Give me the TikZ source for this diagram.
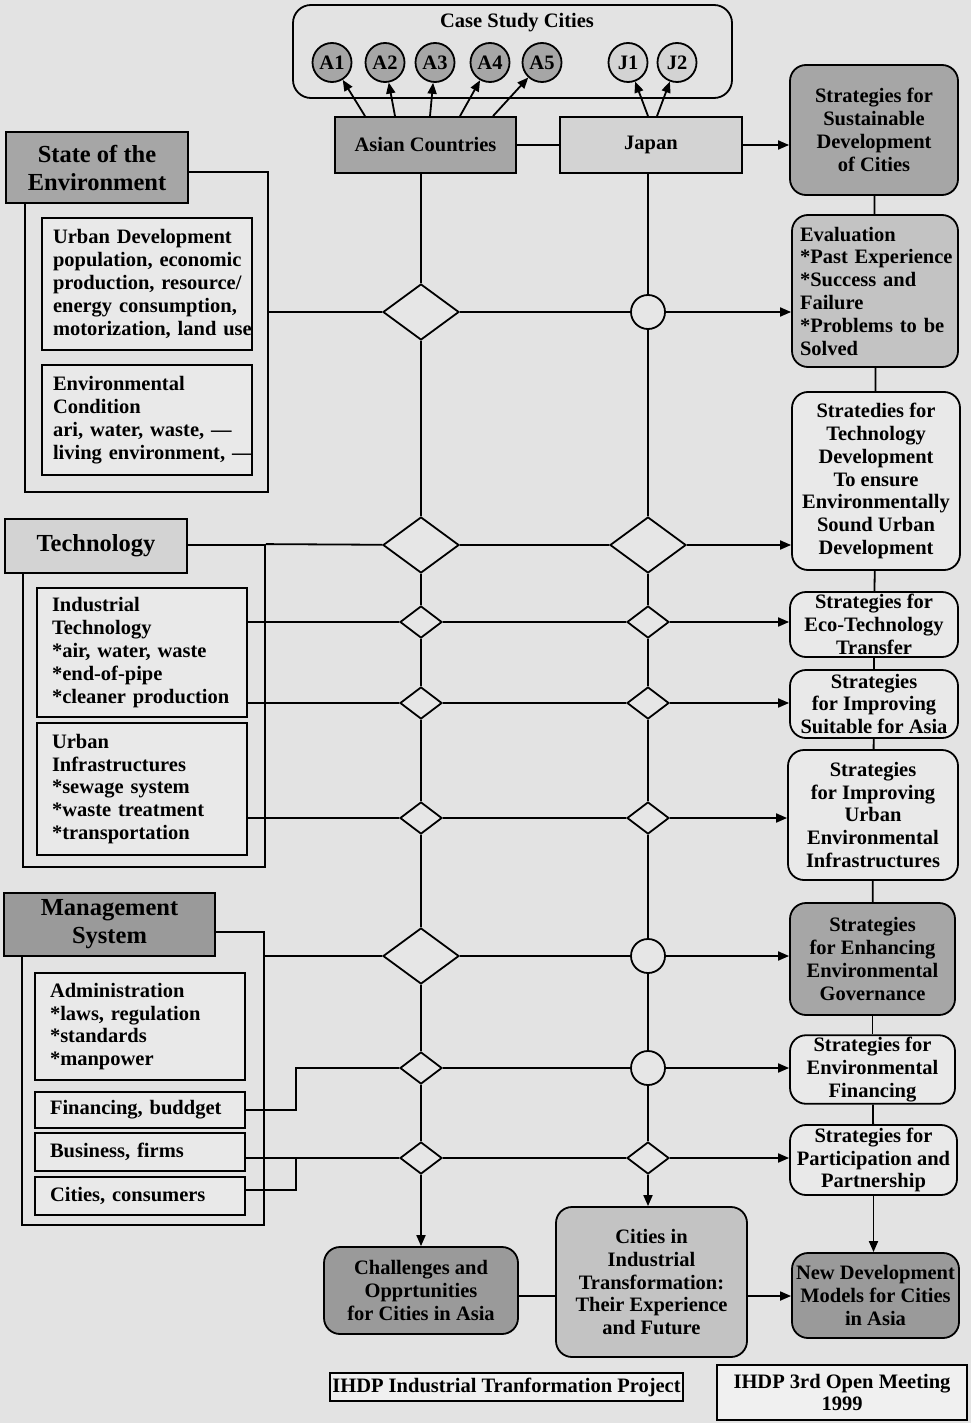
\documentclass[tikz,border=0pt]{standalone}
\usepackage{fontspec}
\setmainfont{Liberation Serif}
\usetikzlibrary{shapes.geometric,arrows.meta,calc}
\definecolor{bg}{HTML}{E3E3E3}
\definecolor{boxL}{HTML}{E9E9E9}
\definecolor{diaF}{HTML}{E6E6E6}
\definecolor{gDark}{HTML}{A6A6A6}
\definecolor{gDarker}{HTML}{9A9A9A}
\definecolor{gMid}{HTML}{C3C3C3}
\definecolor{gLight}{HTML}{D3D3D3}
\definecolor{paper}{HTML}{F0F0F0}
\begin{document}
\begin{tikzpicture}[x=1pt,y=-1pt,line width=1.8pt,
  every node/.style={font=\fontsize{20.5}{22.8}\selectfont\bfseries},
  sz/.style 2 args={minimum width=#1pt,minimum height=#2pt},
  arr/.style={-{Triangle[length=11pt,width=9pt]}},
  dia/.style={diamond,draw,fill=diaF,inner sep=0pt,minimum width=76pt,minimum height=56pt},
  sdia/.style={dia,minimum width=42pt,minimum height=32pt},
  circ/.style={circle,draw,fill=diaF,inner sep=0pt,minimum size=34pt},
  city/.style={circle,draw,inner sep=0pt,minimum size=39pt},
  frame/.style={draw,inner sep=0pt},
  hbox/.style={draw,align=center,inner sep=2pt,font=\fontsize{24.5}{28}\selectfont\bfseries},
  lboxA/.style={draw,fill=boxL,align=left,inner xsep=11pt,inner ysep=2pt,text width=188pt},
  lboxB/.style={draw,fill=boxL,align=left,inner xsep=15pt,inner ysep=2pt,text width=180pt},
  rbox/.style={draw,rounded corners=16pt,align=center,inner sep=2pt},
  pbox/.style={draw,fill=paper,align=center,inner sep=2pt}]
\fill[bg] (0,0) rectangle (971,1423);
\useasboundingbox (0,0) rectangle (971,1423);

% ---------- top ----------
\node[draw,rounded corners=18pt,sz={439}{93}] (case) at (512.5,51.5) {};
\node (casetitle) at (517,23) {Case Study Cities};
\foreach \n/\x in {A1/332,A2/385,A3/435,A4/490,A5/542}
  \node[city,fill=gDark] (\n) at (\x,62.5) {\n};
\foreach \n/\x in {J1/628,J2/677}
  \node[city,fill=gLight] (\n) at (\x,62.5) {\n};
\node[draw,fill=gDark,sz={181}{56}] (asian) at (425.5,145) {Asian Countries};
\node[draw,fill=gLight,sz={182}{56}] (japan) at (651,145) {Japan};

% ---------- right column ----------
\node[rbox,fill=gDark,sz={168}{130}] (S1) at (874,130) {Strategies for\\Sustainable\\Development\\of Cities};
\node[draw,rounded corners=16pt,fill=gMid,align=left,inner xsep=8pt,text width=150pt,sz={166}{152}] (S2) at (875,291) {Evaluation\\\mbox{*Past Experience}\\\mbox{*Success and}\\Failure\\\mbox{*Problems to be}\\Solved};
\node[rbox,fill=boxL,sz={168}{178}] (S3) at (876,481) {Stratedies for\\Technology\\Development\\To ensure\\Environmentally\\Sound Urban\\Development};
\node[rbox,fill=boxL,sz={168}{65}] (S4) at (874,624.5) {Strategies for\\Eco-Technology\\Transfer};
\node[rbox,fill=boxL,sz={168}{68}] (S5) at (874,704) {Strategies\\for Improving\\Suitable for Asia};
\node[rbox,fill=boxL,sz={170}{130}] (S6) at (873,815) {Strategies\\for Improving\\Urban\\Environmental\\Infrastructures};
\node[rbox,fill=gDark,sz={165}{112}] (S7) at (872.5,959) {Strategies\\for Enhancing\\Environmental\\Governance};
\node[rbox,fill=boxL,sz={165}{65}] (S8) at (872.5,1069.5) {Strategies for\\Environmental\\Financing};
\node[rbox,fill=boxL,sz={167}{70}] (S9) at (873.5,1160) {Strategies for\\Participation and\\Partnership};

% ---------- bottom ----------
\node[rbox,fill=gDarker,sz={194}{87}] (C1) at (421,1290.5) {Challenges and\\Opprtunities\\for Cities in Asia};
\node[rbox,fill=gMid,sz={191}{150}] (C2) at (651.5,1282) {Cities in\\Industrial\\Transformation:\\Their Experience\\and Future};
\node[rbox,fill=gDarker,sz={167}{85}] (C3) at (875.5,1295.5) {New Development\\Models for Cities\\in Asia};
\node[pbox,sz={349}{28}] (P1) at (506.5,1387) {IHDP Industrial Tranformation Project};
\node[pbox,sz={250}{55}] (P2) at (842,1392.5) {IHDP 3rd Open Meeting\\1999};

% ---------- left: state of the environment ----------
\node[frame,sz={243}{320}] (SF) at (146.5,332) {};
\node[hbox,fill=gDark,sz={182}{71}] (SL) at (97,167.5) {State of the\\Environment};
\node[lboxA,sz={210}{132}] (UD) at (147,284) {Urban Development\\\mbox{population, economic}\\\mbox{production, resource/}\\\mbox{energy consumption,}\\\mbox{motorization, land use}};
\node[lboxA,sz={210}{110}] (EC) at (147,420) {Environmental\\Condition\\\mbox{ari, water, waste, ---}\\\mbox{living environment, ---}};

% ---------- left: technology ----------
\node[frame,sz={242}{322}] (TF) at (144,706) {};
\node[hbox,fill=gLight,sz={182}{54}] (TL) at (96,546) {Technology};
\node[lboxB,sz={210}{129}] (IT) at (142,652.5) {Industrial\\Technology\\\mbox{*air, water, waste}\\\mbox{*end-of-pipe}\\\mbox{*cleaner production}};
\node[lboxB,sz={210}{132}] (UI) at (142,789) {Urban\\Infrastructures\\\mbox{*sewage system}\\\mbox{*waste treatment}\\\mbox{*transportation}};

% ---------- left: management ----------
\node[frame,sz={242}{293}] (MF) at (143,1078.5) {};
\node[hbox,fill=gDarker,sz={211}{63}] (ML) at (109.5,924.5) {Management\\System};
\node[lboxB,sz={210}{107}] (AD) at (140,1026.5) {Administration\\\mbox{*laws, regulation}\\\mbox{*standards}\\\mbox{*manpower}};
\node[lboxB,sz={210}{36}] (FI) at (140,1110) {Financing, buddget};
\node[lboxB,sz={210}{38}] (BU) at (140,1152) {Business, firms};
\node[lboxB,sz={210}{38}] (CI) at (140,1196) {Cities, consumers};

% ---------- grid nodes ----------
\node[dia]  (L1) at (421,312) {};
\node[dia]  (L2) at (421,545) {};
\node[sdia] (L3) at (421,622) {};
\node[sdia] (L4) at (421,703) {};
\node[sdia] (L5) at (421,818) {};
\node[dia]  (L6) at (421,956) {};
\node[sdia] (L7) at (421,1068) {};
\node[sdia] (L8) at (421,1158) {};
\node[circ] (R1) at (648,312) {};
\node[dia]  (R2) at (648,545) {};
\node[sdia] (R3) at (648,622) {};
\node[sdia] (R4) at (648,703) {};
\node[sdia] (R5) at (648,818) {};
\node[circ] (R6) at (648,956) {};
\node[circ] (R7) at (648,1068) {};
\node[sdia] (R8) at (648,1158) {};
\coordinate (e1) at (296,1068);
\coordinate (e2) at (296,1158);

% ---------- connectors ----------
\draw[arr] ([xshift=-60.5pt]asian.north) -- (A1);
\draw[arr] ([xshift=-30.5pt]asian.north) -- (A2);
\draw[arr] ([xshift=4.5pt]asian.north) -- (A3);
\draw[arr] ([xshift=34.5pt]asian.north) -- (A4);
\draw[arr] ([xshift=67.5pt]asian.north) -- (A5);
\draw[arr] ([xshift=-3pt]japan.north) -- (J1);
\draw[arr] ([xshift=6pt]japan.north) -- (J2);
\draw (asian) -- (japan);
\draw[arr] (japan) -- (japan -| S1.west);

% verticals
\draw (asian.south -| L1) -- (L1) -- (L2) -- (L3) -- (L4) -- (L5) -- (L6) -- (L7) -- (L8);
\draw[arr] (L8) -- (L8 |- C1.north);
\draw (japan.south -| R1) -- (R1) -- (R2) -- (R3) -- (R4) -- (R5) -- (R6) -- (R7) -- (R8);
\draw[arr] (R8) -- (R8 |- C2.north);

% rows
\draw (SF.east |- L1) -- (L1) -- (R1);
\draw (TF.north east) -- (L2) -- (R2);
\draw (IT.east |- L3) -- (L3) -- (R3);
\draw (IT.east |- L4) -- (L4) -- (R4);
\draw (UI.east |- L5) -- (L5) -- (R5);
\draw (MF.east |- L6) -- (L6) -- (R6);
\draw (FI.east) -| (e1) -- (L7) -- (R7);
\draw (BU.east |- L8) -- (L8) -- (R8);
\draw ([yshift=6pt]CI.east) -| (e2);
\draw[arr] (R1) -- (R1 -| S2.west);
\draw[arr] (R2) -- (R2 -| S3.west);
\draw[arr] (R3) -- (R3 -| S4.west);
\draw[arr] (R4) -- (R4 -| S5.west);
\draw[arr] (R5) -- (R5 -| S6.west);
\draw[arr] (R6) -- (R6 -| S7.west);
\draw[arr] (R7) -- (R7 -| S8.west);
\draw[arr] (R8) -- (R8 -| S9.west);

% right column chain
\draw (S1) -- (S2);
\draw (S2) -- (S3);
\draw (S3) -- (S4);
\draw (S4) -- (S5);
\draw (S5) -- (S6);
\draw (S6) -- (S7);
\draw (S7) -- (S8);
\draw (S8) -- (S9);
\draw[arr] (S9.south) -- (S9.south |- C3.north);

% bottom
\draw ([yshift=-5.5pt]C1.east) -- ([yshift=-5.5pt]C1.east -| C2.west);
\draw[arr] ([yshift=-14pt]C2.east) -- ([yshift=-14pt]C2.east -| C3.west);
\end{tikzpicture}
\end{document}
